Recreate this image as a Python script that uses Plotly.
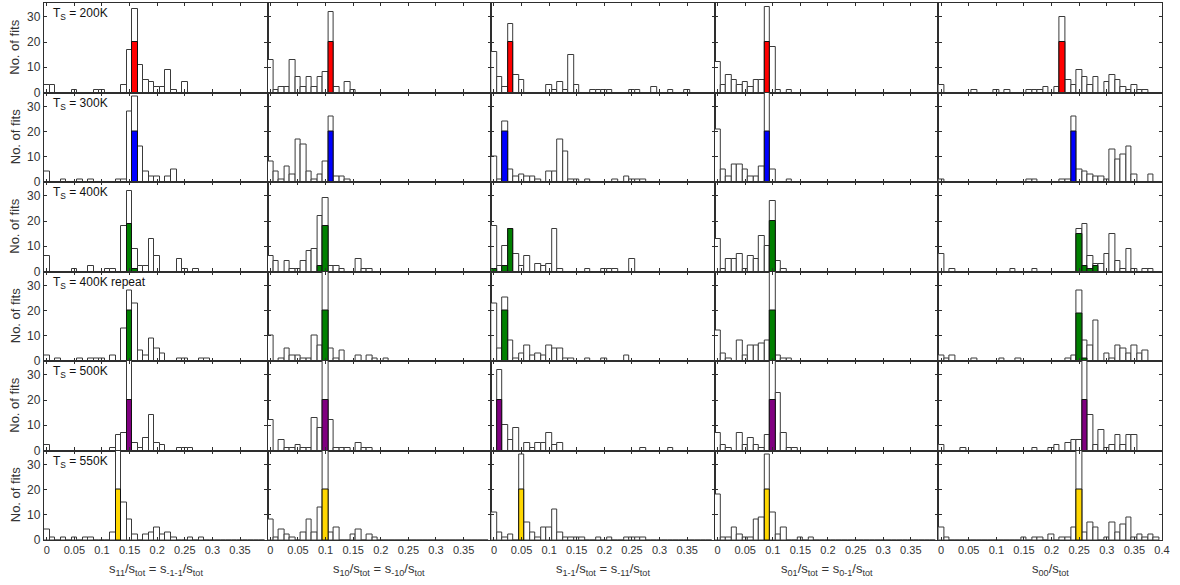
import plotly.graph_objects as go
from plotly.subplots import make_subplots

# ---------------- data (counts per histogram bin, bin centres 0.00, 0.01, ..., 0.39) ----------------
bin_centers = [round(0.01 * i, 2) for i in range(40)]
bin_width = 0.01

temps = ["200K", "300K", "400K", "400K repeat", "500K", "550K"]
temp_colors = ["#FF0000", "#0000FF", "#008000", "#008000", "#800080", "#FFD700"]
x_titles = [
    "s<sub>11</sub>/s<sub>tot</sub> = s<sub>-1-1</sub>/s<sub>tot</sub>",
    "s<sub>10</sub>/s<sub>tot</sub> = s<sub>-10</sub>/s<sub>tot</sub>",
    "s<sub>1-1</sub>/s<sub>tot</sub> = s<sub>-11</sub>/s<sub>tot</sub>",
    "s<sub>01</sub>/s<sub>tot</sub> = s<sub>0-1</sub>/s<sub>tot</sub>",
    "s<sub>00</sub>/s<sub>tot</sub>",
]
Z = [0] * 10

# T_S = 200K
s11_200 = [3,3,0,0,0,1,0,0,0,1, 1,0,0,0,3,17,33,11,5,4, 2,2,9,1,0,4,0,0,0,0] + Z
s10_200 = [13,1,2,2,13,6,2,6,2,6, 8,32,2,0,4,1,0,0,0,0] + Z + Z
s1m1_200 = [16,6,2,27,7,5,0,0,0,0, 3,1,4,1,15,3,0,0,1,1, 1,1,0,0,0,1,1,0,0,2, 0,0,1,0,0,1,0,0,0,0]
s01_200 = [12,3,7,5,3,4,2,5,5,34, 18,1,0,1,0,0,0,0,0,0] + Z + Z
s00_200 = [3,0,0,0,0,0,1,0,0,0, 1,0,1,0,0,0,1,1,1,2, 0,2,30,5,3,9,6,3,6,0, 4,7,5,2,1,3,1,1,0,0]

# T_S = 300K
s11_300 = [4,0,0,1,0,0,1,0,1,0, 0,0,0,1,1,28,34,14,4,2, 2,0,2,5,0,0,0,0,0,0] + Z
s10_300 = [8,4,1,6,3,17,15,4,1,3, 8,26,2,2,1,0,0,0,0,0] + Z + Z
s1m1_300 = [10,1,24,5,2,3,2,2,1,0, 4,4,17,12,1,1,0,1,0,0, 0,0,1,0,2,1,1,1,0,0] + Z
s01_300 = [21,5,2,7,7,5,2,2,6,36, 5,0,0,1,0,0,0,0,0,0] + Z + Z
s00_300 = [1,0,0,0,0,0,0,0,0,0, 0,0,0,0,0,0,1,1,0,0, 0,0,1,1,26,5,4,3,2,2, 1,13,9,11,14,3,0,0,3,0]

# T_S = 400K
s11_400 = [6,0,0,0,0,1,0,0,2,0, 0,1,1,0,18,32,9,2,2,13, 6,0,0,0,5,1,0,1,0,0] + Z
s10_400 = [6,4,0,4,1,1,4,8,9,22, 29,2,2,1,0,0,5,1,1,0] + Z + Z
s1m1_400 = [18,2,10,17,7,2,6,0,3,2, 3,17,1,0,0,0,0,1,0,0, 1,1,1,0,0,5,0,0,0,0] + Z
s01_400 = [13,1,5,5,7,1,6,5,14,10, 28,4,1,0,0,0,0,0,0,0] + Z + Z
s00_400 = [7,0,1,0,0,0,0,0,0,0, 0,0,0,1,0,0,0,1,0,0, 0,0,0,0,0,17,19,6,3,3, 7,15,4,1,9,1,0,1,1,0]

# T_S = 400K repeat
s11_400r = [2,0,1,0,0,0,1,0,1,1, 1,0,2,0,13,28,23,4,2,9, 5,3,0,0,1,1,0,0,1,1] + Z
s10_400r = [10,0,1,5,2,2,1,1,10,6, 38,5,1,4,0,0,2,0,2,1, 0,1,0,0,0,0,0,0,0,0] + Z
s1m1_400r = [23,5,25,8,1,3,6,2,3,2, 6,5,5,1,1,0,0,1,0,0, 1,0,0,0,2,0,0,0,0,0] + Z
s01_400r = [12,3,1,0,8,2,6,6,7,8, 38,2,1,1,0,0,0,0,0,0] + Z + Z
s00_400r = [2,1,2,0,0,0,1,0,0,0, 0,1,0,0,1,0,0,0,0,0, 0,0,0,1,2,28,8,6,16,0, 3,1,6,5,3,6,3,4,0,0]

# T_S = 500K
s11_500 = [2,0,0,0,0,0,0,0,0,0, 0,0,1,6,7,38,3,1,5,14, 3,2,0,0,1,1,1,0,0,0] + Z
s10_500 = [12,0,4,1,1,2,1,1,13,9, 38,12,1,1,1,0,3,1,1,0] + Z + Z
s1m1_500 = [0,32,10,4,9,0,3,1,3,3, 7,2,3,0,0,0,0,0,0,0, 0,0,0,0,0,0,0,1,0,0, 0,0,1,0,0,0,0,0,0,0]
s01_500 = [7,2,1,0,7,2,5,2,1,6, 38,23,7,1,1,0,0,0,0,0] + Z + Z
s00_500 = [2,0,0,0,1,0,0,0,0,0, 0,0,0,0,0,0,0,1,0,0, 1,2,0,3,4,4,38,14,2,8, 1,2,6,2,6,6,0,0,0,0]

# T_S = 550K
s11_550 = [4,1,0,1,0,1,0,1,1,0, 0,0,3,38,15,8,2,0,2,3, 5,2,3,1,0,0,1,0,1,0] + Z
s10_550 = [8,1,4,2,1,0,3,8,3,13, 38,3,5,0,0,2,4,0,2,1] + Z + Z
s1m1_550 = [11,3,1,2,0,34,7,3,1,5, 5,12,3,1,1,1,1,0,0,1, 0,1,0,0,1,1,1,1,0,0] + Z
s01_550 = [18,1,1,5,2,1,1,8,9,34, 11,2,5,0,0,1,0,1,0,0] + Z + Z
s00_550 = [5,1,0,0,0,0,0,0,0,0, 0,0,0,0,0,1,0,1,1,0, 2,0,1,1,5,38,3,7,5,0, 1,7,3,6,9,1,2,1,2,1]

# highlighted (coloured) subsets: {bin index: count}
sel_200 = [{16: 20}, {11: 20}, {3: 20}, {9: 20}, {22: 20}]
sel_300 = [{16: 20}, {11: 20}, {2: 20}, {9: 20}, {24: 20}]
sel_400 = [{15: 19, 16: 1}, {9: 2, 10: 18}, {0: 1, 2: 2, 3: 17}, {10: 20}, {25: 15, 26: 2, 27: 1, 28: 2}]
sel_400r = [{15: 20}, {10: 20}, {2: 20}, {10: 20}, {25: 19, 26: 1}]
sel_500 = [{15: 20}, {10: 20}, {1: 20}, {10: 20}, {26: 20}]
sel_550 = [{13: 20}, {10: 20}, {5: 20}, {9: 20}, {25: 20}]

totals = [
    [s11_200, s10_200, s1m1_200, s01_200, s00_200],
    [s11_300, s10_300, s1m1_300, s01_300, s00_300],
    [s11_400, s10_400, s1m1_400, s01_400, s00_400],
    [s11_400r, s10_400r, s1m1_400r, s01_400r, s00_400r],
    [s11_500, s10_500, s1m1_500, s01_500, s00_500],
    [s11_550, s10_550, s1m1_550, s01_550, s00_550],
]
selected = [sel_200, sel_300, sel_400, sel_400r, sel_500, sel_550]

xtick_main = [0, 0.05, 0.1, 0.15, 0.2, 0.25, 0.3, 0.35]
xtick_last = xtick_main + [0.4]
ytick_vals = [0, 10, 20, 30]

# ---------------- figure ----------------
FONT = "Liberation Sans, Arial, sans-serif"
AX = "#2e2e2e"


def axname(letter, n):
    return letter if n == 1 else f"{letter}{n}"


fig = make_subplots(rows=6, cols=5, horizontal_spacing=0, vertical_spacing=0)

for r in range(6):
    for c in range(5):
        tot = totals[r][c]
        fig.add_trace(go.Bar(
            x=bin_centers, y=tot, width=bin_width,
            marker=dict(color="white", line=dict(color="#3a3a3a", width=1)),
            showlegend=False, hoverinfo="skip"), row=r + 1, col=c + 1)
        sel = selected[r][c]
        ks = sorted(sel)
        fig.add_trace(go.Bar(
            x=[bin_centers[k] for k in ks], y=[sel[k] for k in ks], width=bin_width,
            marker=dict(color=temp_colors[r], line=dict(color="#111111", width=1)),
            showlegend=False, hoverinfo="skip"), row=r + 1, col=c + 1)

        ticks_here = xtick_last if c == 4 else xtick_main
        fig.update_xaxes(
            range=[-0.005, 0.4], tickvals=ticks_here,
            ticktext=[("%g" % v) for v in ticks_here],
            showticklabels=(r == 5), ticks="inside", ticklen=3, tickwidth=1, tickcolor=AX,
            showline=True, linecolor=AX, linewidth=1.3, mirror="ticks",
            showgrid=False, zeroline=False, fixedrange=True,
            tickfont=dict(size=11, color="#333333", family=FONT),
            row=r + 1, col=c + 1)
        fig.update_yaxes(
            range=[0, 35.5], tickvals=ytick_vals, showticklabels=(c == 0),
            ticks="inside", ticklen=3, tickwidth=1, tickcolor=AX,
            showline=True, linecolor=AX, linewidth=1.3, mirror="ticks",
            showgrid=False, zeroline=False, fixedrange=True,
            tickfont=dict(size=12, color="#333333", family=FONT),
            row=r + 1, col=c + 1)

annotations = []
for r in range(6):
    n = r * 5 + 1
    annotations.append(dict(
        text="T<sub>S</sub> = " + temps[r], xref=axname("x", n) + " domain",
        yref=axname("y", n) + " domain",
        x=0.03, y=1.0, xanchor="left", yanchor="top", yshift=-1, showarrow=False,
        font=dict(size=12, color="#111111", family=FONT)))
    annotations.append(dict(
        text="No. of fits", xref="paper", yref=axname("y", n) + " domain", x=0, y=0.5,
        xanchor="center", yanchor="middle", xshift=-29, textangle=-90, showarrow=False,
        font=dict(size=13, color="#333333", family=FONT)))
for c in range(5):
    n = 25 + c + 1
    annotations.append(dict(
        text=x_titles[c], xref=axname("x", n) + " domain", yref="paper", x=0.5, y=0,
        xanchor="center", yanchor="top", yshift=-19, showarrow=False,
        font=dict(size=13, color="#333333", family=FONT)))

fig.update_layout(
    width=1180, height=585, barmode="overlay", bargap=0,
    margin=dict(l=44, r=18, t=3, b=45),
    paper_bgcolor="white", plot_bgcolor="white",
    font=dict(family=FONT, size=12, color="#333333"),
    annotations=annotations, showlegend=False,
)

fig.write_html("out.html", config={"displayModeBar": False},
               post_script="document.body.style.margin='0';")
